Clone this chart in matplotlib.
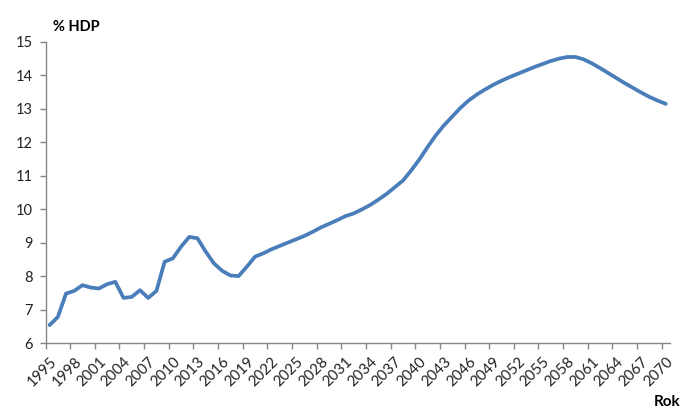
import numpy as np
import matplotlib.pyplot as plt
from matplotlib.ticker import FixedLocator, NullFormatter

years = np.arange(1995, 2071)
values = [
    6.54, 6.78, 7.48, 7.56, 7.73, 7.66, 7.63, 7.76, 7.83, 7.35,   # 1995-2004
    7.38, 7.58, 7.35, 7.56, 8.43, 8.53, 8.88, 9.17, 9.13, 8.73,   # 2005-2014
    8.38, 8.16, 8.02, 8.00, 8.28, 8.58, 8.68, 8.80, 8.90, 9.00,   # 2015-2024
    9.10, 9.20, 9.32, 9.45, 9.56, 9.67, 9.79, 9.87, 9.99, 10.12,  # 2025-2034
    10.28, 10.45, 10.65, 10.85, 11.15, 11.48, 11.85, 12.20, 12.50, 12.76,  # 2035-2044
    13.02, 13.24, 13.42, 13.57, 13.71, 13.83, 13.94, 14.04, 14.14, 14.24,  # 2045-2054
    14.33, 14.42, 14.49, 14.54, 14.54, 14.47, 14.35, 14.21, 14.06, 13.91,  # 2055-2064
    13.76, 13.62, 13.48, 13.35, 13.24, 13.14,                              # 2065-2070
]
label_years = years[::3]
y_ticks = list(range(6, 16))

plt.rcParams['font.family'] = ['Lato', 'DejaVu Sans']
axis_grey = '#868686'

fig = plt.figure(figsize=(7, 4.2), dpi=100)
ax = fig.add_axes([0.065, 0.183, 0.892, 0.718])

ax.plot(years, values, color='#4a7ebb', linewidth=2.7, solid_joinstyle='round',
        solid_capstyle='round')

ax.set_xlim(years[0] - 0.5, years[-1] + 0.5)
ax.set_ylim(6, 15)

# category axis: labels at the centres, tick marks on the boundaries
ax.set_xticks(label_years)
ax.set_xticklabels([str(y) for y in label_years], rotation=45, ha='right',
                   rotation_mode='anchor', fontsize=10.8, color='#222222')
ax.tick_params(axis='x', which='major', length=0, pad=8)
ax.xaxis.set_minor_locator(FixedLocator(label_years - 0.5))
ax.xaxis.set_minor_formatter(NullFormatter())
ax.tick_params(axis='x', which='minor', length=4, color=axis_grey, width=1)

ax.set_yticks(y_ticks)
ax.set_yticklabels([str(v) for v in y_ticks], fontsize=10.5, color='#222222')
ax.tick_params(axis='y', length=4, color=axis_grey, width=1, pad=5)

for side in ('top', 'right'):
    ax.spines[side].set_visible(False)
for side in ('left', 'bottom'):
    ax.spines[side].set_color(axis_grey)
    ax.spines[side].set_linewidth(1)

fig.text(0.076, 0.935, '% HDP', fontsize=10.5, fontweight='bold', ha='left',
         va='center')
fig.text(0.972, 0.042, 'Rok', fontsize=11, fontweight='bold', ha='right',
         va='center')

fig.savefig('out.png', dpi=100)
